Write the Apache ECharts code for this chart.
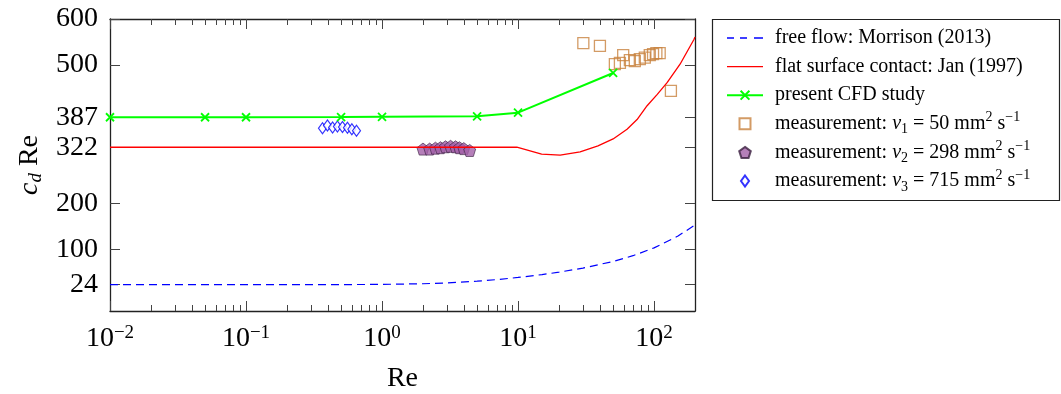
<!DOCTYPE html>
<html><head><meta charset="utf-8">
<script src="https://cdn.jsdelivr.net/npm/echarts@6/dist/echarts.min.js"></script>
<style>html,body{margin:0;padding:0;background:#fff}#c{width:1061px;height:394px}</style>
</head><body><div id="c"></div>
<script>
// ---- data ----
const xTickValues = [0.01, 0.1, 1, 10, 100];
const xMinorTickValues = [0.02,0.03,0.04,0.05,0.06,0.07,0.08,0.09,
  0.2,0.3,0.4,0.5,0.6,0.7,0.8,0.9, 2,3,4,5,6,7,8,9, 20,30,40,50,60,70,80,90];
const yTickValues = [24, 100, 200, 322, 387, 500, 600];

const freeFlowRe   = [0.01, 0.1, 0.5, 1, 2, 3, 5, 7, 10, 15, 20, 30, 50, 70, 100, 150, 200];
const freeFlowCdRe = [24.0, 24.0, 24.2, 24.7, 26.1, 27.8, 31.6, 35.1, 39.7, 45.9, 51.2, 60.0, 74.4, 86.9, 103.8, 129.5, 153.5];

const janRe   = [0.01, 1, 9.8, 14.9, 20.4, 28.6, 38.7, 50, 63.3, 75, 88.9, 105.2, 124.7, 155.3, 196.9, 200];
const janCdRe = [322, 322, 322, 307, 305, 312, 325, 340, 361, 382, 412, 436, 462, 502, 556, 561];

const cfdRe   = [0.01, 0.05, 0.1, 0.5, 1, 5, 10, 50];
const cfdCdRe = [387, 387, 387, 387.5, 388, 389, 397, 483];

const nu1Re   = [30.2, 40.0, 51.5, 56.1, 59.3, 66.4, 72.2, 78.6, 85.5, 93.0, 98.3, 104, 110, 133];
const nu1CdRe = [547.6, 541.8, 502, 505, 521.6, 511, 509, 513, 516.4, 521.6, 523.8, 526, 526, 444];

const nu2Re   = [2.0, 2.24, 2.47, 2.69, 2.93, 3.19, 3.47, 3.71, 3.99, 4.41];
const nu2CdRe = [318, 318, 320, 321, 323, 324, 323, 321, 319, 315];

const nu3Re   = [0.365, 0.397, 0.433, 0.470, 0.512, 0.557, 0.600, 0.649];
const nu3CdRe = [363, 369, 365, 367, 366, 364, 361, 358];

const names = {
  ff: 'free flow: Morrison (2013)',
  jan: 'flat surface contact: Jan (1997)',
  cfd: 'present CFD study',
  n1: 'measurement: ν1 = 50 mm2 s−1',
  n2: 'measurement: ν2 = 298 mm2 s−1',
  n3: 'measurement: ν3 = 715 mm2 s−1'
};
const legendRich = {};
legendRich[names.ff] = '{t|free flow: Morrison (2013)}';
legendRich[names.jan] = '{t|flat surface contact: Jan (1997)}';
legendRich[names.cfd] = '{t|present CFD study}';
legendRich[names.n1] = '{t|measurement: }{i|ν}{sub|1}{t| = 50 mm}{sup|2}{t| s}{sup|−1}';
legendRich[names.n2] = '{t|measurement: }{i|ν}{sub|2}{t| = 298 mm}{sup|2}{t| s}{sup|−1}';
legendRich[names.n3] = '{t|measurement: }{i|ν}{sub|3}{t| = 715 mm}{sup|2}{t| s}{sup|−1}';

const zip = (a, b) => a.map((v, i) => [v, b[i]]);
const FONT = '"Liberation Serif", "DejaVu Serif", serif';
const AX = '#222';
const TK = '#444';
const SQUARE = 'path://M0,0H10V10H0Z';
const DIAMOND = 'path://M4,0L8,5.5L4,11L0,5.5Z';
const PENTAGON = 'path://M0,-1L0.951,-0.309L0.588,0.809L-0.588,0.809L-0.951,-0.309Z';
const CROSS = 'path://M0,0L10,10M10,0L0,10';

// hidden value axes in decade units only carry the tick marks of the log axis
const tickAxis = (pos, vals, len) => ({
  type: 'value', min: -2, max: Math.log10(200), position: pos, gridIndex: 0,
  axisLine: { show: false, onZero: false },
  axisTick: { show: true, inside: true, length: len, customValues: vals.map(Math.log10), lineStyle: { color: TK, width: 1 } },
  axisLabel: { show: false }, splitLine: { show: false }
});

const valAxisBase = { type: 'value', min: -33, max: 600, gridIndex: 0, splitLine: { show: false } };

const chart = echarts.init(document.getElementById('c'));
chart.setOption({
  animation: false,
  backgroundColor: '#fff',
  grid: { left: 110, top: 19, width: 585, height: 292, containLabel: false, outerBoundsMode: 'none' },
  xAxis: [
    {
      type: 'log', logBase: 10, min: 0.01, max: 200, gridIndex: 0, position: 'bottom',
      splitLine: { show: false },
      axisLine: { show: true, onZero: false, lineStyle: { color: AX, width: 1.3 } },
      axisTick: { show: false },
      axisLabel: {
        show: true, margin: 13, customValues: xTickValues,
        formatter: v => { const e = Math.round(Math.log10(v)); return '{b|10}{s|' + (e < 0 ? '−' : '') + Math.abs(e) + '}'; },
        rich: {
          b: { fontFamily: FONT, fontSize: 28, color: '#000', lineHeight: 30 },
          s: { fontFamily: FONT, fontSize: 19, color: '#000', verticalAlign: 'top', lineHeight: 18 }
        }
      },
      name: 'Re', nameLocation: 'middle', nameGap: 54,
      nameTextStyle: { fontFamily: FONT, fontSize: 28, color: '#000' }
    },
    {
      type: 'log', logBase: 10, min: 0.01, max: 200, gridIndex: 0, position: 'top',
      splitLine: { show: false },
      axisLine: { show: true, onZero: false, lineStyle: { color: AX, width: 1.3 } },
      axisTick: { show: false }, axisLabel: { show: false }
    },
    tickAxis('bottom', xTickValues, 10),
    tickAxis('bottom', xMinorTickValues, 6),
    tickAxis('top', xTickValues, 10),
    tickAxis('top', xMinorTickValues, 6)
  ],
  yAxis: [
    Object.assign({}, valAxisBase, {
      position: 'left',
      axisLine: { show: true, onZero: false, lineStyle: { color: AX, width: 1.3 } },
      axisTick: { show: true, inside: true, length: 10, customValues: yTickValues, lineStyle: { color: TK, width: 1 } },
      axisLabel: { show: true, margin: 12, customValues: yTickValues, fontFamily: FONT, fontSize: 28, color: '#000' },
      name: '{i|c}{sub|d}{r| Re}', nameLocation: 'middle', nameGap: 58, nameRotate: 90,
      nameTextStyle: {
        rich: {
          i: { fontFamily: FONT, fontSize: 28, fontStyle: 'italic', color: '#000', lineHeight: 30 },
          sub: { fontFamily: FONT, fontSize: 19, fontStyle: 'italic', color: '#000', verticalAlign: 'bottom', lineHeight: 18 },
          r: { fontFamily: FONT, fontSize: 28, color: '#000', lineHeight: 30 }
        }
      }
    }),
    Object.assign({}, valAxisBase, {
      position: 'right',
      axisLine: { show: true, onZero: false, lineStyle: { color: AX, width: 1.3 } },
      axisTick: { show: true, inside: true, length: 10, customValues: yTickValues, lineStyle: { color: TK, width: 1 } },
      axisLabel: { show: false }
    })
  ],
  legend: {
    orient: 'vertical', left: 726, top: 25, padding: 0,
    itemWidth: 36, itemHeight: 11, itemGap: 2.6,
    data: [
      { name: names.ff, icon: 'path://M0,0h7v1.3h-7zM13,0h7v1.3h-7zM27,0h9v1.3h-9z', itemStyle: { color: '#0000ff', borderWidth: 0 } },
      { name: names.jan, icon: 'path://M0,0H36V1.3H0Z', itemStyle: { color: '#ff0000', borderWidth: 0 } },
      { name: names.cfd },
      { name: names.n1 },
      { name: names.n2 },
      { name: names.n3 }
    ],
    formatter: n => legendRich[n],
    textStyle: {
      padding: [0, 0, 0, 7],
      fontFamily: FONT, fontSize: 20, color: '#000', lineHeight: 26,
      rich: {
        t: { fontFamily: FONT, fontSize: 20, color: '#000', lineHeight: 26 },
        i: { fontFamily: FONT, fontSize: 20, fontStyle: 'italic', color: '#000', lineHeight: 26 },
        sub: { fontFamily: FONT, fontSize: 14, color: '#000', verticalAlign: 'bottom', lineHeight: 20 },
        sup: { fontFamily: FONT, fontSize: 14, color: '#000', verticalAlign: 'top', lineHeight: 14 }
      }
    }
  },
  graphic: [{
    type: 'rect', silent: true,
    shape: { x: 712.5, y: 19.5, width: 347, height: 181 },
    style: { fill: 'none', stroke: '#222', lineWidth: 1.2 }
  }],
  series: [
    { name: names.ff, type: 'line', xAxisIndex: 0, yAxisIndex: 0, data: zip(freeFlowRe, freeFlowCdRe),
      symbol: 'none', lineStyle: { color: '#0000ff', width: 1.2, type: [8, 5] }, itemStyle: { color: '#0000ff' } },
    { name: names.jan, type: 'line', xAxisIndex: 0, yAxisIndex: 0, data: zip(janRe, janCdRe),
      symbol: 'none', lineStyle: { color: '#ff0000', width: 1.3 }, itemStyle: { color: '#ff0000' } },
    { name: names.cfd, type: 'line', xAxisIndex: 0, yAxisIndex: 0, data: zip(cfdRe, cfdCdRe),
      symbol: CROSS, symbolSize: 8, showAllSymbol: true,
      lineStyle: { color: '#00ff00', width: 2 },
      itemStyle: { color: '#00ff00', borderColor: '#00ff00', borderWidth: 1.8 } },
    { name: names.n1, type: 'scatter', xAxisIndex: 0, yAxisIndex: 0, data: zip(nu1Re, nu1CdRe),
      symbol: SQUARE, symbolSize: 11, symbolKeepAspect: true,
      itemStyle: { color: 'rgba(255,255,255,0)', borderColor: '#c8823f', borderWidth: 1.3 } },
    { name: names.n2, type: 'scatter', xAxisIndex: 0, yAxisIndex: 0, data: zip(nu2Re, nu2CdRe),
      symbol: PENTAGON, symbolSize: 12,
      itemStyle: { color: '#a35fa8', borderColor: '#3b2040', borderWidth: 0.8 } },
    { name: names.n3, type: 'scatter', xAxisIndex: 0, yAxisIndex: 0, data: zip(nu3Re, nu3CdRe),
      symbol: DIAMOND, symbolSize: [8, 11],
      itemStyle: { color: '#ffffff', borderColor: '#0000ff', borderWidth: 1.2 } }
  ]
});
</script></body></html>
